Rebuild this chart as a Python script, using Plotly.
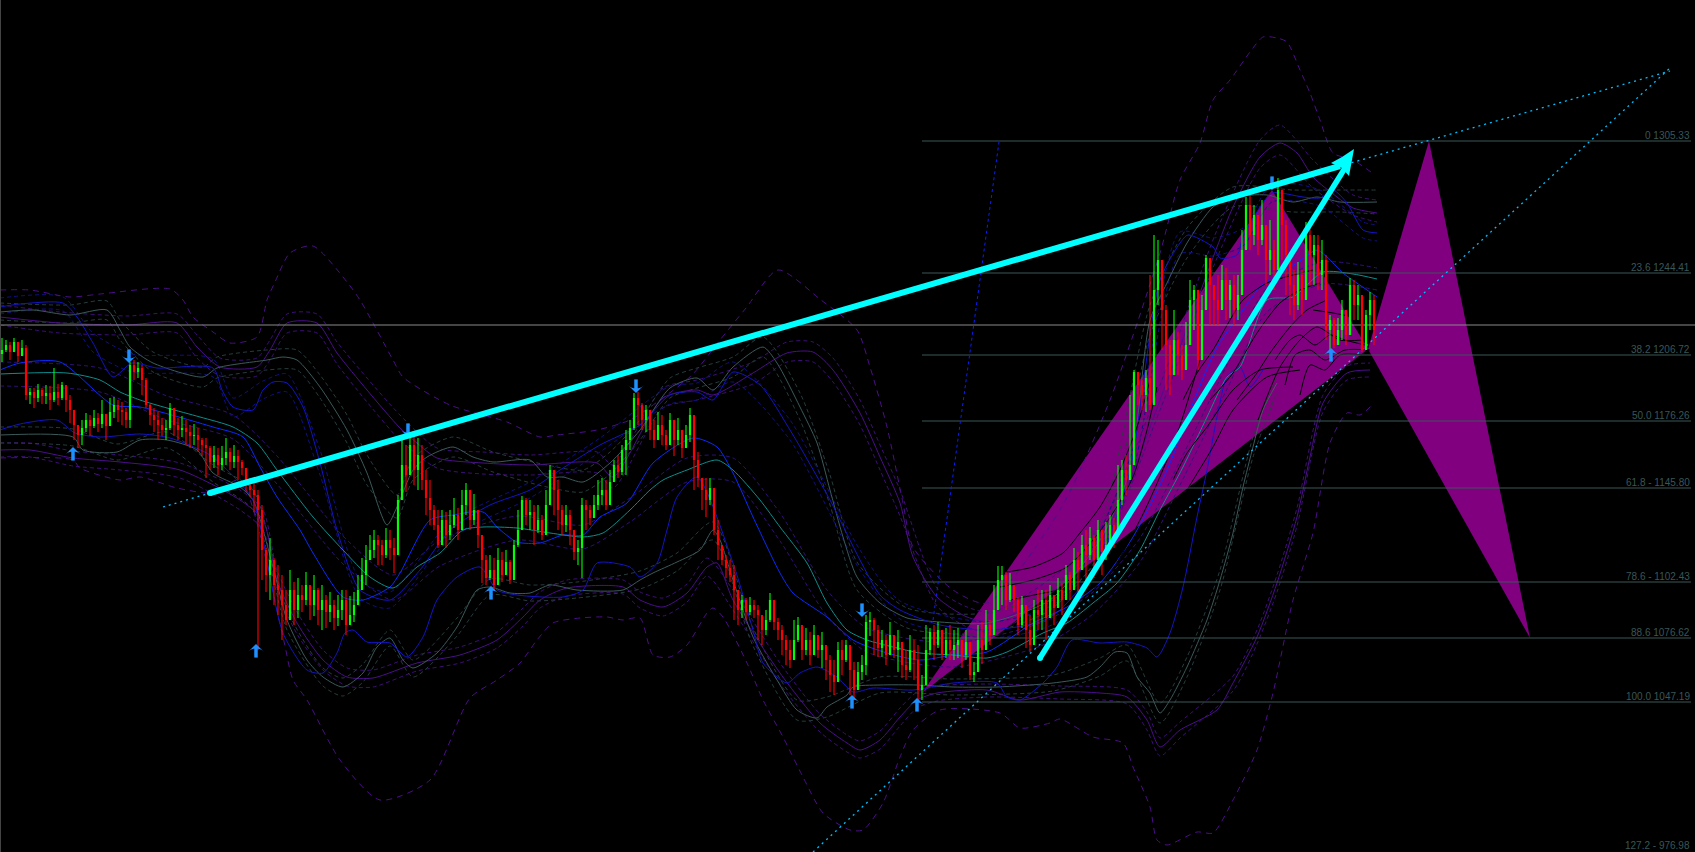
import plotly.graph_objects as go

# ---------- candles (one bar every 4 columns of the picture) ----------
bar_x = list(range(2, 1378, 4))
bar_close = [
350,345,352,342,356,348,395,392,398,390, 396,393,400,392,398,385,400,410,425,435,
428,420,426,418,424,414,426,412,405,410, 412,420,365,372,368,380,405,415,420,425,
430,428,408,425,430,428,432,436,435,440, 445,448,462,455,465,458,452,462,456,462,
468,485,490,495,510,550,575,560,585,590, 605,620,590,610,595,600,585,605,590,610,
600,612,605,618,610,600,625,615,605,590, 575,560,550,540,545,555,540,548,555,500,
465,475,445,470,455,480,498,510,525,545, 520,535,525,515,530,505,490,520,510,535,
560,578,570,585,560,575,562,580,545,530, 500,515,512,530,520,535,505,470,490,510,
525,515,530,552,548,505,510,518,505,495, 490,505,482,465,472,450,440,428,398,405,
420,410,430,440,425,435,445,420,440,430, 448,435,415,460,478,490,500,488,530,545,
560,568,575,590,610,600,612,605,610,615, 630,620,600,622,630,640,650,660,640,625,
650,640,655,635,650,645,660,675,682,650, 660,645,670,690,672,665,622,620,630,648,
640,655,635,650,642,665,670,650,660,690, 685,650,632,645,630,655,640,650,645,640,
655,642,675,672,640,650,625,635,610,580, 575,600,585,600,625,605,630,645,610,615,
600,618,595,608,590,600,575,590,560,570, 545,555,538,560,530,552,545,525,535,500,
470,480,465,372,385,395,378,405,290,260, 310,345,375,340,355,370,345,300,290,360,
310,258,285,300,310,280,300,285,310,295, 250,205,235,215,240,225,260,250,270,190,
225,255,285,305,275,300,235,255,245,275, 260,330,320,345,330,310,335,285,305,295,
350,315,300,330]
bar_high = [
338,340,342,338,344,340,345,388,388,384, 388,385,386,368,384,382,386,395,412,425,
420,413,415,410,413,400,414,398,397,400, 402,408,362,360,362,365,378,404,408,412,
418,420,403,408,418,416,420,425,424,428, 438,438,446,446,448,446,438,448,445,450,
460,470,478,480,490,505,548,538,558,565, 575,590,570,582,578,585,572,588,575,588,
585,595,592,600,595,590,590,596,592,575, 558,545,535,530,535,540,528,530,538,495,
440,445,435,432,438,445,470,480,505,510, 510,512,510,498,508,490,483,490,494,510,
540,555,555,558,548,552,550,560,540,510, 496,498,500,505,505,515,490,465,470,480,
505,505,510,538,540,498,500,505,495,480, 478,480,470,460,455,445,430,420,393,392,
403,405,410,420,412,415,430,413,425,418, 438,425,408,432,452,480,478,478,500,520,
545,555,560,565,592,595,598,597,600,605, 615,610,593,605,618,625,635,640,620,617,
625,628,632,625,638,632,645,655,660,642, 640,640,648,662,662,655,615,612,618,625,
630,635,622,635,630,645,650,635,640,645, 675,625,628,625,622,635,628,625,630,628,
640,630,660,662,625,622,610,620,585,566, 566,572,573,585,597,596,612,615,600,590,
590,590,585,595,578,583,565,572,548,552, 535,530,527,535,520,533,522,515,518,465,
460,455,395,370,372,380,370,275,235,240, 285,305,340,310,332,345,322,280,285,300,
295,255,265,285,275,265,268,280,275,275, 230,197,195,205,215,200,240,220,240,178,
215,220,270,270,262,270,222,225,235,235, 240,255,315,318,318,300,310,278,280,285,
300,310,292,295]
bar_low = [
362,352,360,350,362,356,400,404,408,402, 404,404,410,402,405,400,412,423,440,448,
445,432,436,428,432,428,440,420,418,422, 425,428,428,380,378,395,408,425,432,440,
436,440,430,436,440,437,445,448,445,452, 456,478,470,468,475,470,465,470,468,480,
475,492,497,512,650,580,592,600,605,615, 640,625,615,625,618,612,605,620,616,625,
630,628,622,630,626,620,635,625,622,595, 590,585,560,558,565,565,558,560,573,553,
485,492,465,485,490,490,515,525,530,548, 540,548,540,528,540,520,515,530,525,548,
583,585,580,590,578,582,572,584,570,547, 528,525,530,545,533,540,515,500,515,530,
535,532,545,560,565,578,530,525,515,510, 505,510,495,480,478,475,475,450,430,425,
430,432,440,448,440,445,450,440,456,445, 458,448,442,490,487,510,517,505,535,560,
565,578,582,620,625,618,620,615,618,640, 645,635,622,630,640,655,665,668,650,642,
660,655,665,650,658,668,680,692,695,672, 675,662,695,700,685,680,675,636,655,657,
657,665,655,658,672,678,680,672,680,702, 700,680,655,660,648,660,658,660,660,658,
668,660,680,682,660,664,640,645,620,600, 605,610,602,612,635,628,648,652,630,630,
630,640,612,625,603,615,592,600,580,592, 565,585,560,578,555,575,560,540,548,510,
505,495,470,440,405,410,412,410,320,305, 350,390,395,375,375,380,370,340,330,370,
345,305,325,325,325,310,320,318,325,320, 262,240,250,245,255,245,285,275,290,245,
260,295,315,320,310,315,265,285,285,290, 290,340,350,348,342,340,345,315,320,320,
352,342,330,345]
bar_open = [bar_close[0] + 4] + bar_close[:-1]

# ---------- indicator bands ----------
teal_x = [0,67,100,120,140,167,200,233,257,277,313,343,370,393,417,440,463,483,517,550,583,603,630,650,
          663,687,717,733,760,780,807,827,847,867,893,920,953,987,1007,1043,1067,1093,1117,1140,1160,1183,1207,1227,1240,1267,1293,1323,1353,1377]
teal_y = [374,373,380,392,400,408,417,427,443,470,517,550,577,588,567,553,530,527,528,533,537,533,510,490,
          480,470,460,470,500,527,563,603,630,640,647,653,655,658,652,633,623,603,583,550,510,467,417,377,367,300,297,272,274,279]

blue_mid_x = [0,20,60,113,140,213,243,260,277,300,313,343,363,390,400,430,453,483,497,517,540,563,583,600,627,
              653,693,717,733,753,780,793,827,853,887,920,953,987,1033,1067,1100,1133,1167,1193,1217,1243,1260,1297,1317,1327,1343,1367,1377]
blue_mid_y = [370,363,362,405,407,427,437,467,497,530,553,597,600,587,573,520,515,512,527,542,543,535,535,517,503,
              463,438,447,473,517,573,593,617,640,653,660,655,652,623,607,583,537,470,403,347,310,287,263,250,257,273,290,297]

blue_top_x = [0,20,63,77,93,113,132,157,213,222,233,253,263,273,287,303,320,337,360,390,420,450,490,530,560,600,640,
              670,697,713,733,760,790,830,860,880,900,940,990,1040,1060,1100,1130,1160,1180,1188,1213,1220,1237,1243,1260,1272,1303,1320,1333,1347,1363,1377]
blue_top_y = [307,304,303,317,343,377,363,368,368,390,407,410,390,382,383,407,463,530,590,600,570,530,505,490,470,445,425,
              395,392,400,372,385,430,500,560,595,610,625,630,622,610,560,470,280,243,235,247,258,255,237,207,193,197,198,190,203,230,233]

gray_top_x = [0,33,70,107,120,130,153,203,217,267,283,297,320,347,367,387,397,413,427,453,473,493,530,547,563,583,610,640,
              670,697,713,733,763,777,800,817,830,843,857,880,907,940,987,1050,1100,1130,1150,1167,1187,1213,1233,1267,1293,1317,1340,1377]
gray_top_y = [312,310,315,310,330,347,363,377,368,360,357,360,387,430,473,525,507,470,457,447,457,462,460,477,477,482,463,430,
              388,378,390,367,347,363,407,443,490,537,577,603,618,622,623,600,540,470,320,283,243,207,197,195,202,197,202,202]

gray_low_x = [0,73,83,117,140,167,197,213,240,253,273,287,307,323,343,363,377,390,403,413,437,457,477,490,510,530,550,577,623,640,
              653,677,700,713,720,733,753,777,797,817,827,847,853,880,917,953,997,1053,1087,1100,1115,1127,1137,1150,1160,1170,1187,1207,1220,1233,1243,1253,1263,1277]
gray_low_y = [435,437,450,452,440,440,450,473,487,500,567,620,660,677,687,673,647,638,660,668,653,627,590,587,593,593,585,590,590,580,
              573,562,550,530,540,580,637,680,710,718,707,695,687,685,685,687,687,683,677,667,652,653,677,693,713,700,667,620,580,533,487,447,410,383]

blue_low_x = [0,20,57,75,100,140,170,210,235,253,283,307,323,337,345,353,367,390,407,423,437,457,480,497,517,563,583,597,630,640,657,667,677,697,
              733,753,763,787,800,817,837,853,873,913,953,997,1007,1020,1043,1057,1072,1100,1127,1147,1157,1170,1183,1197,1207,1217,1227,1240,1250,1263]
blue_low_y = [430,424,420,433,437,434,438,455,478,500,633,670,673,653,633,630,642,643,657,637,600,577,567,590,595,597,590,563,567,577,563,530,497,477,
              563,630,663,683,673,667,677,692,688,690,683,683,697,700,683,667,640,643,642,648,657,633,587,517,470,417,377,367,387,370]

purple_top_x = [0,60,127,177,197,220,257,270,287,317,337,367,400,417,437,483,530,597,613,663,697,713,753,787,813,833,860,880,900,913,937,967,993,
                1040,1090,1130,1160,1190,1217,1233,1260,1280,1297,1313,1337,1353,1377]
purple_top_y = [317,323,325,323,347,367,367,350,323,323,353,390,428,443,458,463,465,463,477,398,390,395,373,353,352,370,413,457,503,557,597,617,622,
                600,560,480,400,320,247,207,157,143,153,177,197,208,213]

purple_low_x = [0,30,73,120,180,240,263,277,297,323,347,373,417,460,497,523,540,567,623,640,663,687,707,717,733,780,820,847,860,880,900,917,937,987,
                1020,1060,1100,1127,1147,1160,1180,1217,1233,1257,1277,1297,1310,1323,1347,1370]
purple_low_y = [450,450,458,462,470,500,520,580,623,660,677,678,663,655,640,617,600,588,587,600,607,593,567,563,600,673,723,743,750,740,717,700,693,690,
                700,692,693,697,720,747,730,710,683,637,583,517,457,403,373,370]

outer_top_x = [0,30,70,100,170,183,193,213,230,257,267,275,290,313,347,360,373,393,403,450,507,540,557,597,630,660,692,720,746,778,821,857,870,887,903,913,953,987,
               1060,1110,1160,1180,1200,1213,1230,1250,1263,1277,1287,1300,1310,1320,1333,1353,1375]
outer_top_y = [290,290,297,294,289,300,317,332,343,337,300,282,253,246,282,300,323,360,377,405,422,437,435,430,420,400,375,340,308,270,300,330,367,427,503,547,590,603,
               510,400,253,180,143,100,80,52,37,38,42,70,93,120,153,160,175]

outer_low_x = [0,73,80,120,140,177,213,240,283,293,307,340,380,430,470,497,520,537,553,580,607,623,640,653,670,687,707,713,723,747,763,783,803,823,850,863,883,900,913,940,1000,
               1020,1050,1060,1093,1123,1133,1150,1157,1167,1197,1213,1233,1257,1273,1293,1313,1330,1347,1360,1372]
outer_low_y = [458,460,468,480,477,488,493,480,637,680,700,760,800,780,698,680,663,640,623,618,617,620,618,655,657,645,613,608,617,663,700,737,777,813,830,830,803,757,730,710,713,
               728,723,719,737,743,767,807,840,845,832,833,800,750,693,600,533,443,413,415,405]

# dashed companions of the bands
ptop_x = [0,60,127,177,197,220,257,270,287,317,337,367,400,437,483,530,597,613,663,697,753,787,813,833,860,880,900,937,967,993,1090,1160,1217,1260,1280,1313,1353,1377]
ptop_hi = [305,312,316,314,335,358,358,340,314,314,342,378,415,448,452,455,452,465,388,380,362,342,342,358,400,445,490,588,607,612,545,385,230,140,125,160,195,200]
ptop_lo = [325,333,335,333,358,376,376,360,333,333,364,402,440,468,474,475,473,488,408,400,384,362,362,382,425,470,516,606,627,632,570,410,258,168,155,188,215,222]

plow_x = [0,30,73,120,180,240,263,277,297,323,347,373,417,460,497,523,540,567,623,640,663,687,707,733,780,820,847,860,880,900,917,937,987,1060,1127,1147,1160,1180,1233,1257,1277,1297,1323,1347,1370]
plow_hi = [443,443,451,455,463,490,510,570,612,650,668,670,655,647,632,608,592,580,580,592,598,584,558,590,663,714,735,741,731,708,692,686,684,686,690,712,738,722,676,630,575,508,395,366,363]
plow_lo = [457,457,466,470,478,510,530,590,634,670,686,687,671,663,648,626,608,596,594,608,616,602,576,610,684,732,752,758,749,726,708,701,697,699,704,730,756,738,691,644,592,526,412,380,377]

gtop_x = [0,70,107,120,153,203,217,267,297,320,347,367,397,413,453,493,547,583,610,640,670,697,733,763,800,830,857,907,987,1050,1100,1150,1187,1233,1293,1340,1377]
gtop_hi = [303,305,301,320,352,367,357,350,350,375,415,455,495,458,437,452,465,470,452,420,378,368,357,337,393,475,562,608,613,590,525,305,228,187,190,190,190]
gtop_lo = [320,323,320,340,372,387,378,370,370,398,443,485,518,480,457,472,487,492,474,440,398,388,377,357,420,505,590,628,633,610,553,335,258,207,212,212,214]

glow_x = [0,73,117,167,213,253,287,323,343,363,390,413,457,490,530,577,640,677,713,753,797,827,880,953,1053,1100,1127,1160,1187,1220,1253,1277]
glow_hi = [427,429,444,432,465,490,610,668,678,664,630,660,618,579,585,582,571,553,522,628,700,697,677,679,675,658,645,703,657,570,437,375]
glow_lo = [443,446,460,448,482,510,630,686,696,682,646,677,636,595,601,598,589,571,540,646,720,717,693,695,691,676,661,723,677,590,457,392]

btop_x = [0,63,93,132,213,233,263,287,320,360,390,450,530,600,670,697,733,790,860,900,990,1060,1130,1180,1213,1243,1272,1320,1363,1377]
btop_hi = [298,297,333,354,359,398,381,374,450,580,592,522,482,438,386,383,362,420,550,601,622,600,458,232,238,228,184,190,222,225]
btop_lo = [314,311,352,372,377,417,399,392,475,598,608,538,498,452,404,400,382,440,570,619,638,620,482,254,256,246,202,206,238,241]

tmid_x = [0,100,167,233,277,343,393,440,517,583,630,687,733,780,827,867,953,1043,1093,1140,1183,1227,1267,1323,1377]
tmid_hi = [362,368,396,415,456,536,575,540,516,525,498,458,458,513,590,628,643,622,592,538,455,365,288,262,268]
tmid_lo = [386,392,420,439,484,564,600,566,540,549,522,482,482,541,616,652,667,645,614,562,479,389,312,284,290]

# lines that read as black on the purple wedge
dark_1_x = [1000,1033,1063,1080,1100,1120,1137,1150]; dark_1_y = [573,567,553,533,507,470,427,380]
dark_2_x = [1000,1033,1067,1093,1113,1133,1147,1157]; dark_2_y = [587,580,567,540,513,477,430,387]
dark_3_x = [1173,1187,1207,1233,1260,1293];           dark_3_y = [480,453,427,390,370,367]
dark_4_x = [1187,1213,1233,1267,1300];                dark_4_y = [490,447,410,377,370]
dark_5_x = [1183,1197,1213,1230,1243,1267,1293,1313]; dark_5_y = [400,373,350,320,300,283,275,270]
dark_6_x = [1210,1233,1257,1280,1300,1320];           dark_6_y = [400,373,333,303,290,283]
dark_7_x = [1237,1257,1270,1290,1307,1327];           dark_7_y = [400,373,353,327,310,300]
dark_8_x = [1258,1280,1300,1317,1340,1363];           dark_8_y = [420,367,340,327,340,340]
dark_9_x = [1010,1060,1100,1140,1175,1200];           dark_9_y = [600,590,585,520,440,360]
dark_10_x = [1275,1290,1300,1315,1330,1345,1365];     dark_10_y = [360,340,335,345,335,340,345]
dark_11_x = [1285,1295,1310,1325,1345,1370];          dark_11_y = [385,355,350,360,350,350]
dark_12_x = [1300,1310,1325,1340,1365];               dark_12_y = [395,365,370,355,355]
dark_13_x = [1313,1333,1353,1370];                    dark_13_y = [310,313,317,322]

# ---------- fibonacci levels ----------
fib_rows = [141,273,355,421,488,582,638,702]
fib_labels = ["0 1305.33","23.6 1244.41","38.2 1206.72","50.0 1176.26","61.8 - 1145.80",
              "78.6 - 1102.43","88.6 1076.62","100.0 1047.19"]
fib_start, fib_end = 922, 1691
bottom_label = "127.2 - 976.98"
bottom_label_row = 845
grey_row = 325

# ---------- harmonic pattern ----------
wedge_a_x = [922,1272,1368]; wedge_a_y = [693,190,349]
wedge_b_x = [1368,1429,1530]; wedge_b_y = [349,141,638]

# ---------- trend lines ----------
trend_x = [210,1340]; trend_y = [493,166]
rise_x = [1040,1345]; rise_y = [658,168]
head_x = [1354,1349,1342,1331,1342]; head_y = [149,176,168,163,157]
ext_left_x = [163,210]; ext_left_y = [507,493]
ext_right_x = [1340,1670]; ext_right_y = [166,71]
channel_x = [813,1670]; channel_y = [852,68]
blue_dots_x = [933,999]; blue_dots_y = [620,142]

# ---------- signal arrows (tips) ----------
up_x = [73,256,491,852,917,1331]; up_y = [447,644,586,695,698,348]
down_x = [129,408,636,862,1272]; down_y = [363,437,393,617,190]

fig = go.Figure()

def poly(x, y, color="#800080"):
    fig.add_trace(go.Scatter(x=x, y=y, fill="toself", mode="none", fillcolor=color,
                             hoverinfo="skip", showlegend=False))

def curve(x, y, color, width=1.0, dash="solid"):
    fig.add_trace(go.Scatter(x=x, y=y, mode="lines", hoverinfo="skip", showlegend=False,
                             line=dict(color=color, width=width, dash=dash, shape="spline", smoothing=0.7)))

def straight(x, y, color, width=1.0, dash="solid"):
    fig.add_trace(go.Scatter(x=x, y=y, mode="lines", hoverinfo="skip", showlegend=False,
                             line=dict(color=color, width=width, dash=dash)))

poly(wedge_a_x, wedge_a_y)
poly(wedge_b_x, wedge_b_y)

DASH = "4px,3px"
for cx, cy, col in [(ptop_x, ptop_hi, "#3c0f78"), (ptop_x, ptop_lo, "#3c0f78"),
                    (plow_x, plow_hi, "#3c0f78"), (plow_x, plow_lo, "#3c0f78"),
                    (gtop_x, gtop_hi, "#263c3c"), (gtop_x, gtop_lo, "#263c3c"),
                    (glow_x, glow_hi, "#263c3c"), (glow_x, glow_lo, "#263c3c"),
                    (btop_x, btop_hi, "#101080"), (btop_x, btop_lo, "#101080"),
                    (tmid_x, tmid_hi, "#30107a"), (tmid_x, tmid_lo, "#30107a")]:
    curve(cx, cy, col, 1, DASH)

curve(outer_top_x, outer_top_y, "#4b0f8a", 1, "6px,5px")
curve(outer_low_x, outer_low_y, "#4b0f8a", 1, "6px,5px")
curve(purple_top_x, purple_top_y, "#4b0f8a", 1)
curve(purple_low_x, purple_low_y, "#4b0f8a", 1)
curve(gray_top_x, gray_top_y, "#3c5a5a", 1)
curve(gray_low_x, gray_low_y, "#3c5a5a", 1)
curve(blue_top_x, blue_top_y, "#1414c8", 1)
curve(blue_low_x, blue_low_y, "#1414c8", 1)
curve(blue_mid_x, blue_mid_y, "#0a2bff", 1)
curve(teal_x, teal_y, "#0e8c8c", 1)

for dx, dy in [(dark_1_x,dark_1_y),(dark_2_x,dark_2_y),(dark_3_x,dark_3_y),(dark_4_x,dark_4_y),(dark_5_x,dark_5_y),
               (dark_6_x,dark_6_y),(dark_7_x,dark_7_y),(dark_8_x,dark_8_y),(dark_9_x,dark_9_y),
               (dark_10_x,dark_10_y),(dark_11_x,dark_11_y),(dark_12_x,dark_12_y),(dark_13_x,dark_13_y)]:
    curve(dx, dy, "#000000", 1)

for r in fib_rows:
    straight([fib_start, fib_end], [r, r], "#3a5656", 1.2)
straight([0, 1695], [grey_row, grey_row], "#8a8a8a", 1.2)
straight(blue_dots_x, blue_dots_y, "#0a1eff", 1, "3px,3px")
straight(channel_x, channel_y, "#00bfff", 1.3, "2px,4px")
straight(ext_left_x, ext_left_y, "#00bfff", 1.3, "2px,4px")
straight(ext_right_x, ext_right_y, "#00bfff", 1.3, "2px,4px")
straight([0.5, 0.5], [0, 852], "#444444", 1)

# candles as library line segments, so they sit above the bands
def segs(keep, lo, hi):
    xs, ys = [], []
    for i, x in enumerate(bar_x):
        if keep(i):
            xs += [x, x, None]
            ys += [lo[i], hi[i], None]
    return xs, ys

is_red = lambda i: bar_close[i] >= bar_open[i]
is_green = lambda i: bar_close[i] < bar_open[i]
for keep, col in [(is_red, "#ff0000"), (is_green, "#00ff00")]:
    xs, ys = segs(keep, bar_low, bar_high)
    fig.add_trace(go.Scatter(x=xs, y=ys, mode="lines", hoverinfo="skip", showlegend=False,
                             line=dict(color=col, width=1.1)))
for keep, col in [(is_red, "#ff0000"), (is_green, "#00ff00")]:
    xs, ys = segs(keep, bar_open, bar_close)
    fig.add_trace(go.Scatter(x=xs, y=ys, mode="lines", hoverinfo="skip", showlegend=False,
                             line=dict(color=col, width=2.2)))

# signal arrows: head plus stem
fig.add_trace(go.Scatter(x=up_x, y=up_y, mode="markers", hoverinfo="skip", showlegend=False,
    marker=dict(symbol="arrow-wide", size=11, color="#1e90ff", line=dict(width=0))))
fig.add_trace(go.Scatter(x=down_x, y=down_y, mode="markers", hoverinfo="skip", showlegend=False,
    marker=dict(symbol="arrow-wide", angle=180, size=11, color="#1e90ff", line=dict(width=0))))
fig.add_trace(go.Scatter(x=up_x, y=[v + 8 for v in up_y], mode="markers", hoverinfo="skip", showlegend=False,
    marker=dict(symbol="line-ns", size=8, line=dict(width=3.5, color="#1e90ff"))))
fig.add_trace(go.Scatter(x=down_x, y=[v - 8 for v in down_y], mode="markers", hoverinfo="skip", showlegend=False,
    marker=dict(symbol="line-ns", size=8, line=dict(width=3.5, color="#1e90ff"))))

straight(trend_x, trend_y, "#00ffff", 6)
straight(rise_x, rise_y, "#00ffff", 5.5)
fig.add_trace(go.Scatter(x=[trend_x[0], rise_x[0]], y=[trend_y[0], rise_y[0]], mode="markers",
    hoverinfo="skip", showlegend=False, marker=dict(size=6, color="#00ffff", line=dict(width=0))))
poly(head_x, head_y, "#00ffff")

for r, t in zip(fib_rows, fib_labels):
    fig.add_annotation(x=fib_end, y=r, text=t, showarrow=False, xanchor="right", yanchor="bottom",
                       font=dict(family="Liberation Sans", size=10, color="#3a5656"), borderpad=0, yshift=-1)
fig.add_annotation(x=fib_end, y=bottom_label_row, text=bottom_label, showarrow=False, xanchor="right", yanchor="middle",
                   font=dict(family="Liberation Sans", size=10, color="#3a5656"), borderpad=0)

fig.update_layout(width=1695, height=852, margin=dict(l=0, r=0, t=0, b=0), paper_bgcolor="#000000",
                  plot_bgcolor="#000000", showlegend=False,
                  xaxis=dict(range=[0, 1695], visible=False, fixedrange=True),
                  yaxis=dict(range=[852, 0], visible=False, fixedrange=True))
fig.write_html("out.html", config=dict(displayModeBar=False),
               post_script="document.body.style.margin='0';document.body.style.background='#000';")
